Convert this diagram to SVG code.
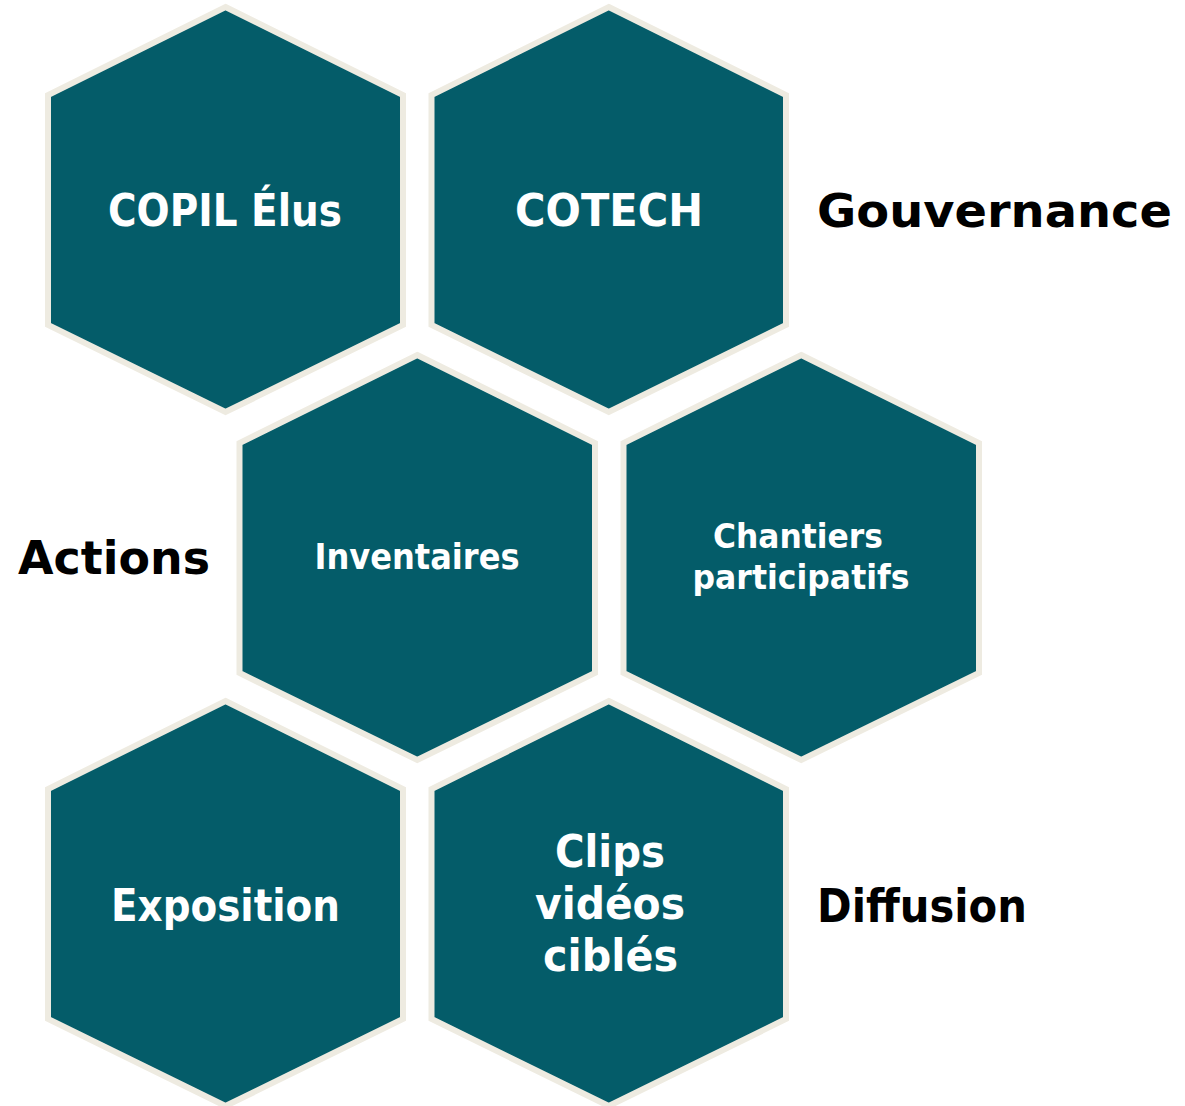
<svg xmlns="http://www.w3.org/2000/svg" width="1185" height="1106" viewBox="0 0 1185 1106">
<style>
.hex{fill:#045C69;stroke:#EEEBE1;stroke-width:6;stroke-linejoin:miter}
.t{font-family:"DejaVu Sans","Liberation Sans",sans-serif;font-weight:bold;fill:#FFFFFF;text-anchor:middle}
.l{font-family:"DejaVu Sans","Liberation Sans",sans-serif;font-weight:bold;fill:#000000}
</style>
<rect width="1185" height="1106" fill="#FFFFFF"/>
<g id="connectors"></g>
<g id="copil">
<polygon class="hex" points="225.5,7 403,95 403,325 225.5,412 48,325 48,95"/>
<text class="t" x="225" y="226" font-size="45" textLength="234" lengthAdjust="spacingAndGlyphs">COPIL Élus</text>
</g>
<g id="cotech">
<polygon class="hex" points="608.75,7 786,95 786,325 608.75,412 431.5,325 431.5,95"/>
<text class="t" x="609" y="226" font-size="45" textLength="188" lengthAdjust="spacingAndGlyphs">COTECH</text>
</g>
<g id="inventaires">
<polygon class="hex" points="417.25,355 595,443 595,673 417.25,760 239.5,673 239.5,443"/>
<text class="t" x="417" y="569" font-size="35" textLength="205" lengthAdjust="spacingAndGlyphs">Inventaires</text>
</g>
<g id="chantiers">
<polygon class="hex" points="801.25,355 979,443 979,673 801.25,760 623.5,673 623.5,443"/>
<text class="t" x="798" y="548" font-size="33" textLength="170" lengthAdjust="spacingAndGlyphs">Chantiers</text>
<text class="t" x="801" y="589" font-size="33" textLength="217" lengthAdjust="spacingAndGlyphs">participatifs</text>
</g>
<g id="exposition">
<polygon class="hex" points="225.5,701 403,789 403,1019 225.5,1106 48,1019 48,789"/>
<text class="t" x="225.5" y="921" font-size="45" textLength="229" lengthAdjust="spacingAndGlyphs">Exposition</text>
</g>
<g id="clips">
<polygon class="hex" points="608.75,701 786,789 786,1019 608.75,1106 431.5,1019 431.5,789"/>
<text class="t" x="610" y="867" font-size="45" textLength="110" lengthAdjust="spacingAndGlyphs">Clips</text>
<text class="t" x="610" y="919" font-size="45" textLength="150" lengthAdjust="spacingAndGlyphs">vidéos</text>
<text class="t" x="610.5" y="971" font-size="45" textLength="135" lengthAdjust="spacingAndGlyphs">ciblés</text>
</g>
<g id="labels">
<text class="l" x="817" y="227" font-size="47" textLength="355" lengthAdjust="spacingAndGlyphs">Gouvernance</text>
<text class="l" x="18" y="574" font-size="47" textLength="192" lengthAdjust="spacingAndGlyphs">Actions</text>
<text class="l" x="817" y="922" font-size="47" textLength="210" lengthAdjust="spacingAndGlyphs">Diffusion</text>
</g>
</svg>
